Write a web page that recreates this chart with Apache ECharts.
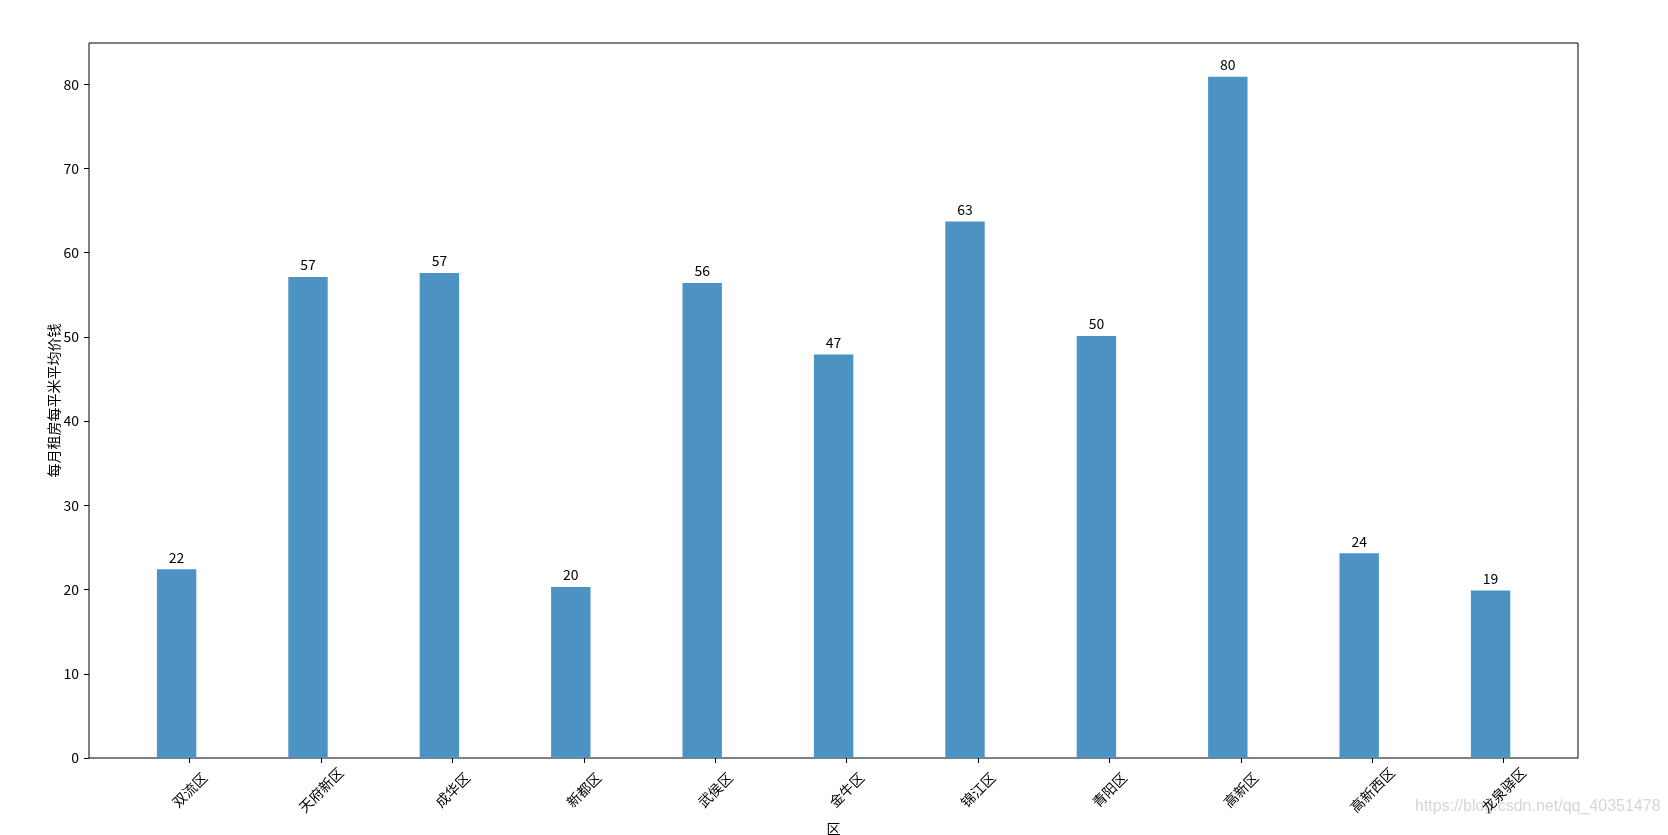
<!DOCTYPE html>
<html>
<head>
<meta charset="utf-8">
<script src="https://cdn.jsdelivr.net/npm/echarts@6/dist/echarts.min.js"></script>
<style>
html,body{margin:0;padding:0;background:#fff;}
#chart{width:1668px;height:835px;}
</style>
</head>
<body>
<div id="chart"></div>
<script>
const categories = ['双流区','天府新区','成华区','新都区','武侯区','金牛区','锦江区','青阳区','高新区','高新西区','龙泉驿区'];
const values = [22.4, 57.1, 57.6, 20.3, 56.4, 47.9, 63.7, 50.1, 80.9, 24.3, 19.9];
const yTicks = [0, 10, 20, 30, 40, 50, 60, 70, 80];
const yMax = 84.9;
const xName = '区';
const yName = '每月租房每平米平均价钱';
const watermark = 'https://blog.csdn.net/qq_40351478';

const FONT = "'Noto Sans CJK SC', 'DejaVu Sans', sans-serif";
const chart = echarts.init(document.getElementById('chart'), null, {renderer: 'canvas'});

const gTop = 43, gBottom = 77;
const gridBase = {top: gTop, bottom: gBottom, containLabel: false, outerBoundsMode: 'none'};
chart.setOption({
  animation: false,
  backgroundColor: '#ffffff',
  textStyle: {fontFamily: FONT},
  grid: [
    Object.assign({left: 89, right: 90, show: true, borderColor: '#000', borderWidth: 1, backgroundColor: 'transparent'}, gridBase),
    Object.assign({left: 110.9, right: 111.7}, gridBase),
    Object.assign({left: 124, right: 98.6}, gridBase)
  ],
  xAxis: [
    {gridIndex: 0, type: 'value', min: 0, max: 1, axisLine: {show: false}, axisTick: {show: false},
     axisLabel: {show: false}, splitLine: {show: false},
     name: xName, nameLocation: 'middle', nameGap: 64, nameMoveOverlap: false,
     nameTextStyle: {color: '#000', fontSize: 14, fontFamily: FONT}},
    {gridIndex: 1, type: 'category', data: categories, show: false, boundaryGap: true},
    {gridIndex: 2, type: 'category', data: categories, boundaryGap: true,
     axisLine: {show: false},
     axisTick: {show: true, alignWithLabel: true, length: 5, lineStyle: {color: '#000', width: 1}},
     axisLabel: {rotate: 45, align: 'center', verticalAlign: 'middle', margin: 32, interval: 0,
                 color: '#000', fontSize: 14, fontFamily: FONT},
     splitLine: {show: false}}
  ],
  yAxis: [
    {gridIndex: 0, type: 'value', min: 0, max: yMax, interval: 10,
     axisLine: {show: false},
     axisTick: {show: true, length: 5, customValues: yTicks, lineStyle: {color: '#000', width: 1}},
     axisLabel: {customValues: yTicks, margin: 10, color: '#000', fontSize: 14, fontFamily: FONT},
     splitLine: {show: false},
     name: yName, nameLocation: 'middle', nameGap: 28, nameRotate: 90, nameMoveOverlap: false,
     nameTextStyle: {color: '#000', fontSize: 14, fontFamily: FONT}},
    {gridIndex: 1, type: 'value', min: 0, max: yMax, show: false, splitLine: {show: false}},
    {gridIndex: 2, type: 'value', min: 0, max: yMax, show: false, splitLine: {show: false}}
  ],
  series: [{
    type: 'bar',
    xAxisIndex: 1,
    yAxisIndex: 1,
    data: values,
    barWidth: 39.4,
    itemStyle: {color: '#4c92c3'},
    label: {
      show: true, position: 'top', distance: 5,
      color: '#000', fontSize: 14, fontFamily: FONT,
      formatter: p => String(Math.floor(p.value))
    }
  }],
  graphic: [{
    type: 'text', left: 1415, top: 799,
    style: {text: watermark, fill: '#d6d6d6', font: "16px 'Liberation Sans', sans-serif"}
  }]
});
</script>
</body>
</html>
